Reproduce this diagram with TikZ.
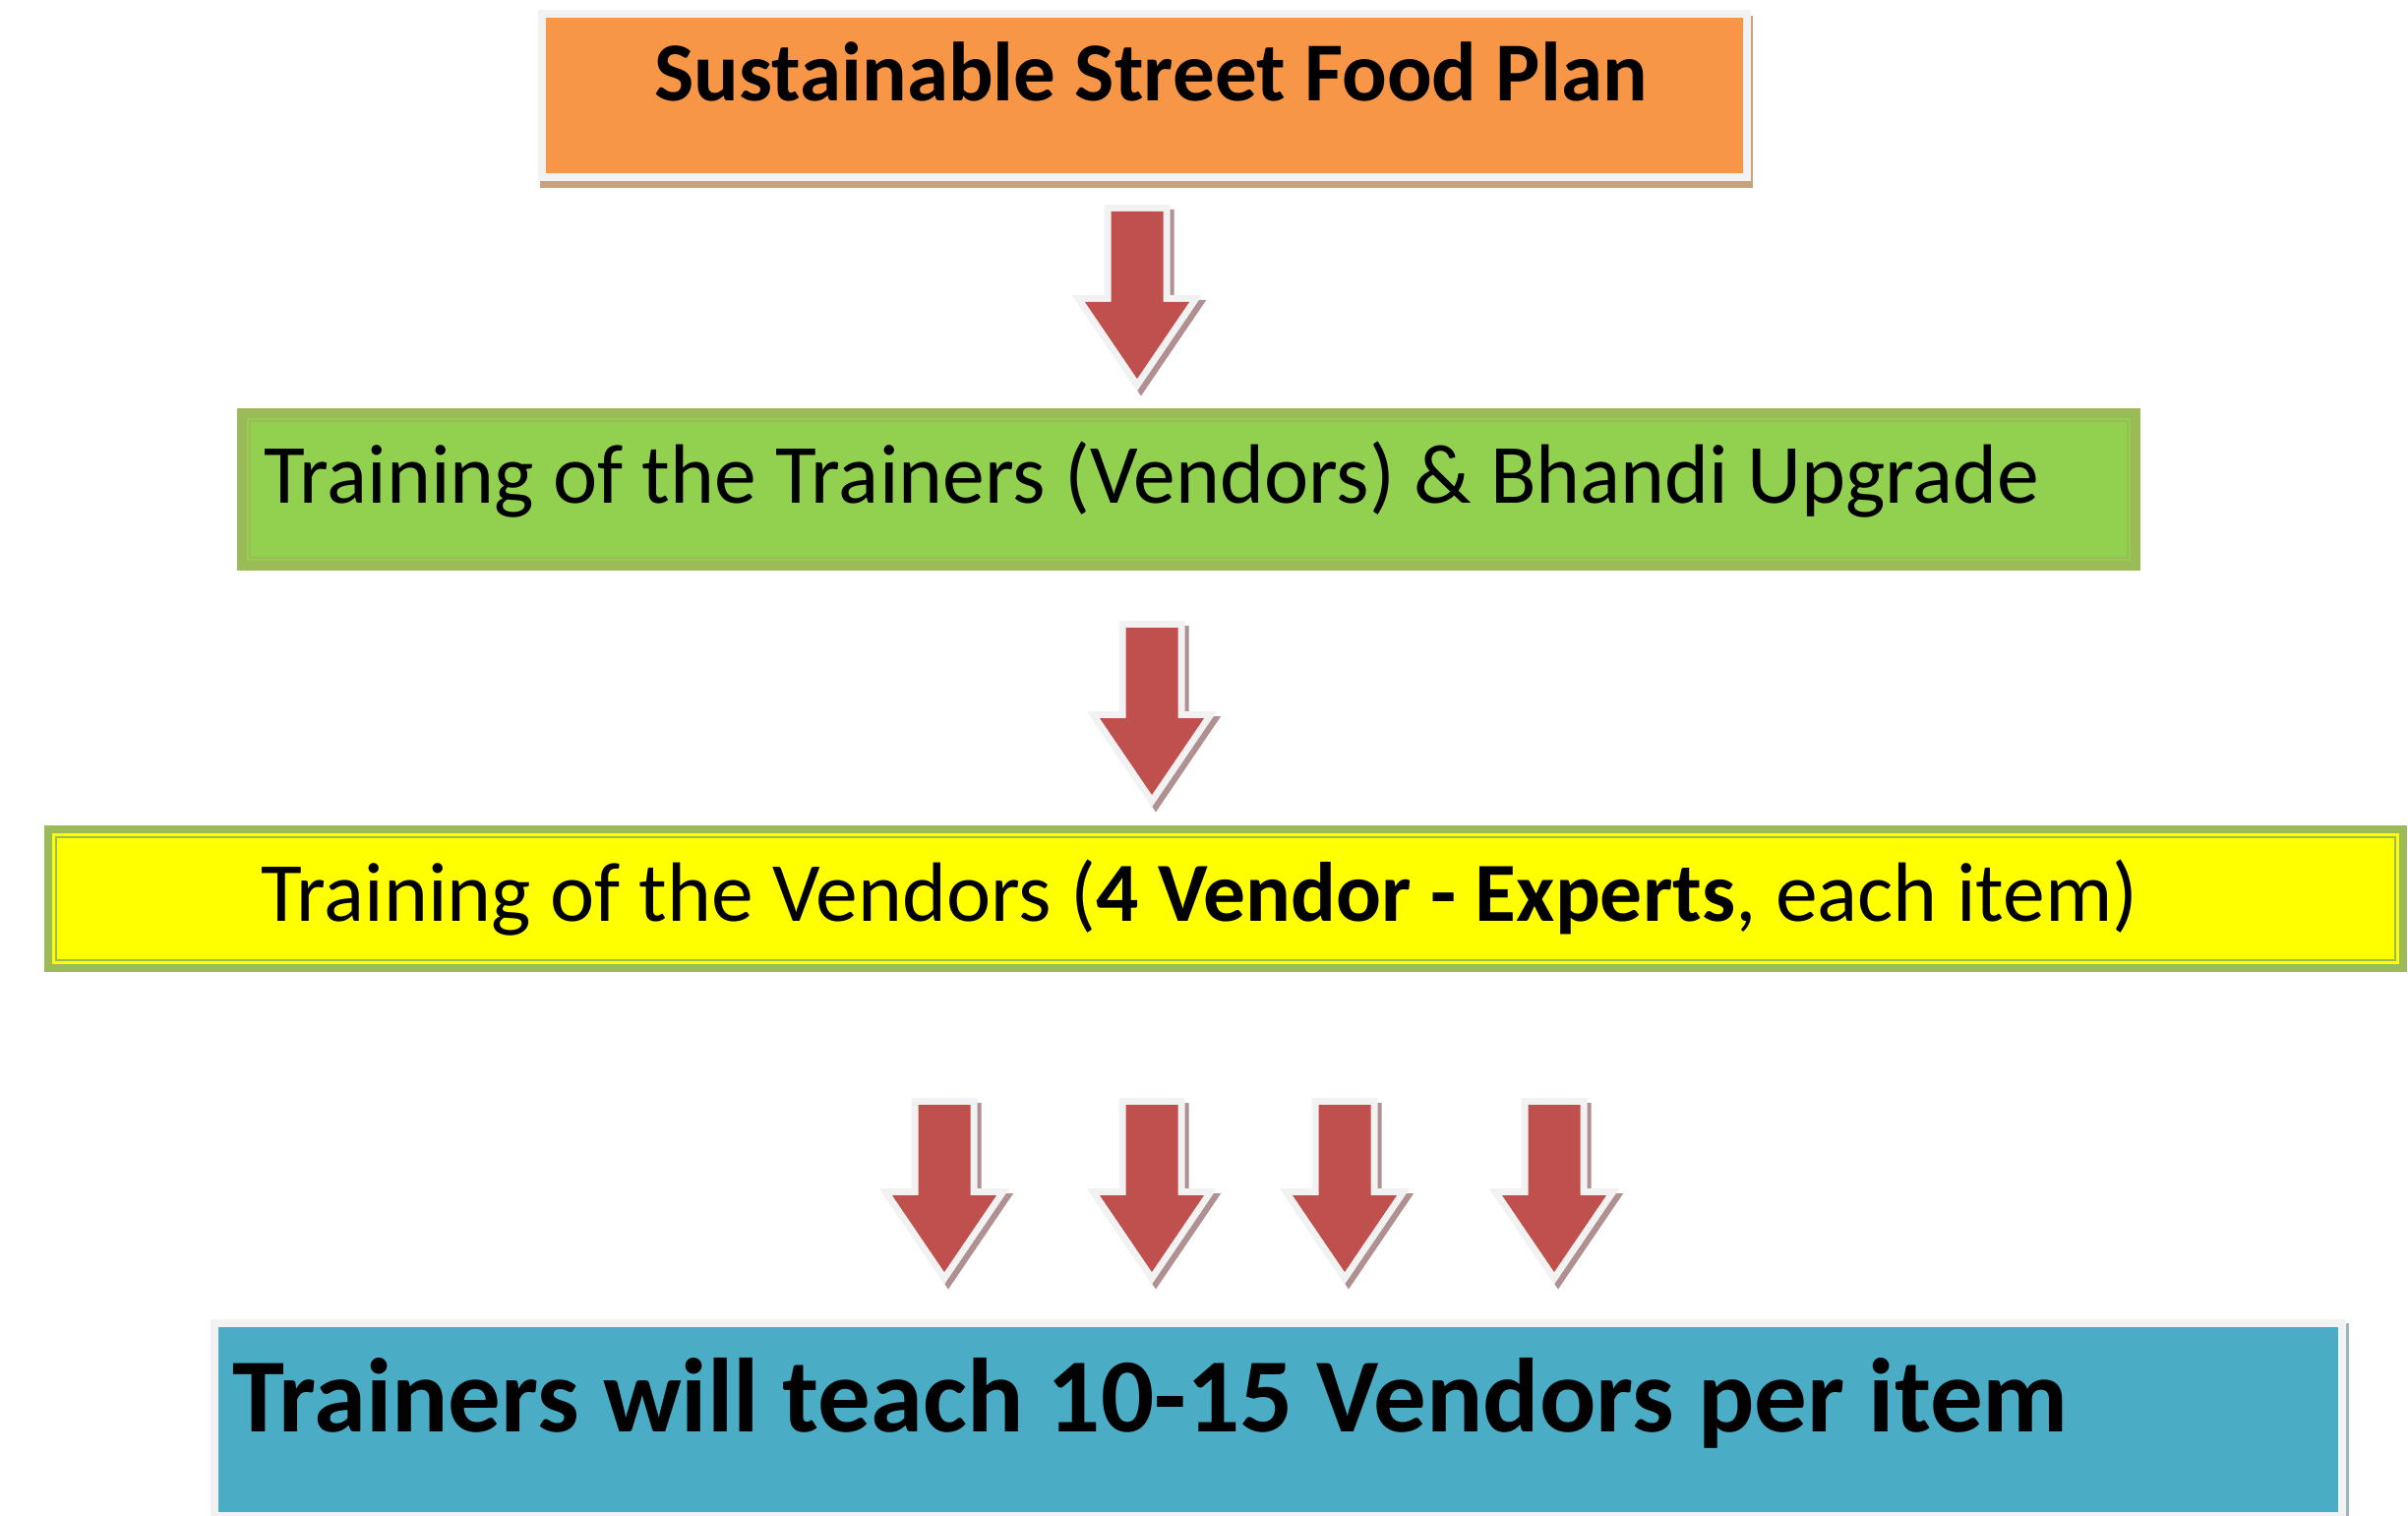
\documentclass[tikz,border=0pt]{standalone}
\usepackage{fontspec}
\setmainfont{Carlito}
\definecolor{orangec}{HTML}{F79646}
\definecolor{framec}{HTML}{F2F2F2}
\definecolor{tanshadow}{HTML}{C9A17F}
\definecolor{greenc}{HTML}{92D050}
\definecolor{olivec}{HTML}{9BBB59}
\definecolor{yellowc}{HTML}{FFFF00}
\definecolor{bluec}{HTML}{4BACC6}
\definecolor{blueshadow}{HTML}{9AB5BD}
\definecolor{redc}{HTML}{C0504D}
\definecolor{ashadow}{HTML}{B09090}
\tikzset{
  boxnode/.style={rectangle, inner sep=0pt, outer sep=0pt},
  label/.style={inner sep=0pt, outer sep=0pt, text=black},
  redarrow/.pic={
    \begin{scope}[shift={(4,5)}]
      \path[fill=ashadow, draw=ashadow, line width=3.5pt, line join=miter]
        (-26.5,0) -- (26.5,0) -- (26.5,92) -- (53,92) -- (0,170) -- (-53,92) -- (-26.5,92) -- cycle;
    \end{scope}
    \path[fill=framec, draw=framec, line width=3.5pt, line join=miter]
      (-26.5,0) -- (26.5,0) -- (26.5,92) -- (53,92) -- (0,170) -- (-53,92) -- (-26.5,92) -- cycle;
    \path[fill=redc]
      (-26.5,0) -- (26.5,0) -- (26.5,92) -- (53,92) -- (0,170) -- (-53,92) -- (-26.5,92) -- cycle;
  }
}
\begin{document}
\begin{tikzpicture}[x=0.25pt, y=-0.25pt]
\clip (0,0) rectangle (2448,1540);
\fill[white] (0,0) rectangle (2448,1540);

% top box
\fill[tanshadow] (549,16) rectangle (1782,191);
\node[boxnode, fill=orangec, draw=framec, line width=2pt,
      minimum width=306.25pt, minimum height=41.5pt] (plan) at (1163.5,97) {};
\node[label, anchor=base, font=\bfseries\fontsize{21.3}{25}\selectfont] (plantxt) at (1170,103)
  {Sustainable Street Food Plan};

% green box
\node[boxnode, fill=greenc, draw=olivec, line width=2.5pt,
      minimum width=481.25pt, minimum height=38.75pt] (tot) at (1208.5,497.5) {};
\draw[olivec, line width=0.4pt] ([shift={(8,8)}]tot.north west) rectangle ([shift={(-8,-8)}]tot.south east);
\node[label, anchor=base west, font=\fontsize{21.4}{26}\selectfont] (tottxt) at (268,512)
  {Training of the Trainers (Vendors) \& Bhandi Upgrade};

% yellow box
\node[boxnode, fill=yellowc, draw=olivec, line width=2pt,
      minimum width=598.5pt, minimum height=35.25pt] (tov) at (1246,913.5) {};
\draw[olivec, line width=0.5pt] ([shift={(8,8)}]tov.north west) rectangle ([shift={(-8,-8)}]tov.south east);
\node[label, anchor=base west, font=\fontsize{21.4}{26}\selectfont] (tovtxt) at (265,936)
  {Training of the Vendors (\textbf{4 Vendor - Experts}, each item)};

% blue box
\fill[blueshadow] (218,1345) rectangle (2388,1545);
\node[boxnode, fill=bluec, draw=framec, line width=2pt,
      minimum width=540.75pt, minimum height=49pt] (teach) at (1299.5,1443) {};
\node[label, anchor=base west, font=\bfseries\fontsize{26.75}{32}\selectfont] (teachtxt) at (236,1455)
  {Trainers will teach 10-15 Vendors per item};

% arrows
\pic at (1156,215) {redarrow};
\pic at (1171,638) {redarrow};
\pic at (960,1123) {redarrow};
\pic at (1171,1123) {redarrow};
\pic at (1367,1123) {redarrow};
\pic at (1580,1123) {redarrow};
\end{tikzpicture}
\end{document}
